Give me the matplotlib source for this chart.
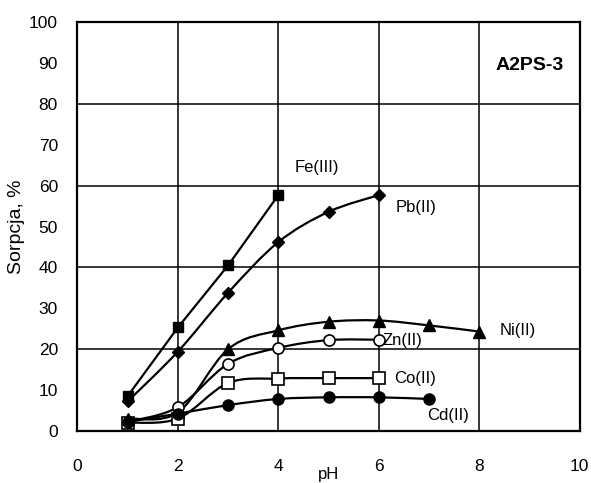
import matplotlib
matplotlib.use("Agg")
import matplotlib.pyplot as plt
from matplotlib.path import Path
from matplotlib.patches import PathPatch

plt.rcParams['font.family'] = ['Liberation Sans', 'DejaVu Sans']

# dane: sorpcja [%] w funkcji pH
ph_fe = [1, 2, 3, 4]
fe = [8.5, 25.3, 40.5, 57.7]
ph_pb = [1, 2, 3, 4, 5, 6]
pb = [7.2, 19.4, 33.8, 46.2, 53.6, 57.7]
ph_ni = [1, 2, 3, 4, 5, 6, 7, 8]
ni = [3.0, 4.5, 20.0, 24.6, 26.7, 27.0, 25.8, 24.3]
ph_zn = [1, 2, 3, 4, 5, 6]
zn = [2.2, 5.8, 16.4, 20.3, 22.2, 22.3]
ph_co = [1, 2, 3, 4, 5, 6]
co = [2.0, 3.0, 11.7, 12.8, 12.9, 12.9]
ph_cd = [1, 2, 3, 4, 5, 6, 7]
cd = [2.2, 4.2, 6.3, 7.8, 8.2, 8.2, 7.8]


def smooth_line(ax, xs, ys, lw=1.6):
    # wygladzona linia jak w Excelu (krzywe Beziera)
    n = len(xs)
    verts = [(xs[0], ys[0])]
    codes = [Path.MOVETO]
    for i in range(n - 1):
        x0, y0 = (xs[i - 1], ys[i - 1]) if i > 0 else (xs[i], ys[i])
        x1, y1 = xs[i], ys[i]
        x2, y2 = xs[i + 1], ys[i + 1]
        x3, y3 = (xs[i + 2], ys[i + 2]) if i + 2 < n else (x2, y2)
        c1 = (x1 + (x2 - x0) / 6, y1 + (y2 - y0) / 6)
        c2 = (x2 - (x3 - x1) / 6, y2 - (y3 - y1) / 6)
        verts += [c1, c2, (x2, y2)]
        codes += [Path.CURVE4] * 3
    ax.add_patch(PathPatch(Path(verts, codes), fill=False, ec='black', lw=lw, zorder=3))


fig = plt.figure(figsize=(5.91, 4.83), dpi=100)
ax = fig.add_axes([0.131, 0.108, 0.85, 0.846])

# siatka
for x in [2, 4, 6, 8]:
    ax.axvline(x, color='black', lw=1.1, zorder=1)
for y in [20, 40, 60, 80]:
    ax.axhline(y, color='black', lw=1.1, zorder=1)

ax.plot(ph_fe, fe, color='black', lw=1.6, marker='s', ms=7, zorder=4)
smooth_line(ax, ph_pb, pb)
ax.plot(ph_pb, pb, ls='none', color='black', marker='D', ms=6, zorder=4)
smooth_line(ax, ph_ni, ni)
ax.plot(ph_ni, ni, ls='none', color='black', marker='^', ms=8, zorder=4)
smooth_line(ax, ph_zn, zn)
ax.plot(ph_zn, zn, ls='none', color='black', marker='o', ms=8, mfc='white', mew=1.2, zorder=4)
smooth_line(ax, ph_co, co)
ax.plot(ph_co, co, ls='none', color='black', marker='s', ms=8, mfc='white', mew=1.2, zorder=4)
smooth_line(ax, ph_cd, cd)
ax.plot(ph_cd, cd, ls='none', color='black', marker='o', ms=8, zorder=4)

fs = 12
ax.text(4.76, 64.5, 'Fe(III)', fontsize=fs, ha='center', va='center')
ax.text(6.75, 54.7, 'Pb(II)', fontsize=fs, ha='center', va='center')
ax.text(8.77, 24.6, 'Ni(II)', fontsize=fs, ha='center', va='center')
ax.text(6.08, 22.2, 'Zn(II)', fontsize=fs, ha='left', va='center')
ax.text(6.3, 12.9, 'Co(II)', fontsize=fs, ha='left', va='center')
ax.text(6.96, 3.7, 'Cd(II)', fontsize=fs, ha='left', va='center')
ax.text(9.0, 89.3, 'A2PS-3', fontsize=14, fontweight='bold', ha='center', va='center')

ax.set_xlim(0, 10)
ax.set_ylim(0, 100)
ax.set_xticks([0, 2, 4, 6, 8, 10])
ax.set_yticks(range(0, 101, 10))
ax.tick_params(axis='x', length=0, pad=20, labelsize=12.5)
ax.tick_params(axis='y', length=0, pad=14, labelsize=12.5)
for s in ax.spines.values():
    s.set_linewidth(1.6)
ax.set_xlabel('pH', fontsize=12)
ax.xaxis.set_label_coords(0.5, -0.088)
ax.set_ylabel('Sorpcja, %', fontsize=14, labelpad=3)

fig.savefig('out.png', dpi=100)
